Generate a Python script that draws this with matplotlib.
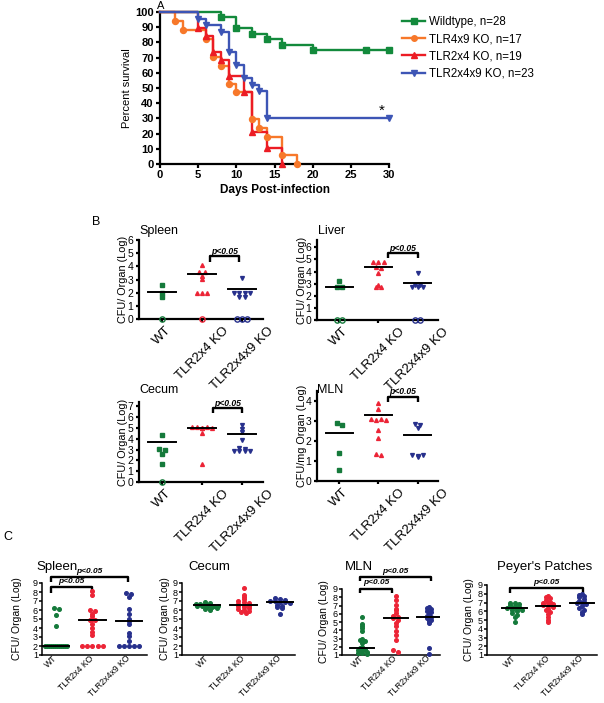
import matplotlib
matplotlib.use("Agg")
import matplotlib.pyplot as plt
import numpy as np
from matplotlib.lines import Line2D

W, H = 604, 703
plt.rcParams["font.family"] = ["Liberation Sans", "DejaVu Sans"]

# ---- panel A: survival ----
WT_DAYS = [0, 8, 10, 12, 14, 16, 20, 30]
WT_SURV = [100, 96.4, 89.3, 85.7, 82.1, 78.6, 75.0, 75.0]
WT_CENSOR = [27]
TLR49_DAYS = [0, 2, 3, 6, 7, 8, 9, 10, 12, 13, 14, 16, 18]
TLR49_SURV = [100, 94.1, 88.2, 82.4, 70.6, 64.7, 52.9, 47.1, 29.4, 23.5, 17.6, 5.9, 0]
TLR24_DAYS = [0, 5, 6, 7, 8, 9, 11, 12, 14, 16]
TLR24_SURV = [100, 89.5, 84.2, 73.7, 68.4, 57.9, 47.4, 21.1, 10.5, 0]
TLR249_DAYS = [0, 5, 6, 8, 9, 10, 11, 12, 13, 14, 30]
TLR249_SURV = [100, 95.7, 91.3, 87.0, 73.9, 65.2, 56.5, 52.2, 47.8, 30.4, 30.4]
SURV_LABELS = ["Wildtype, n=28", "TLR4x9 KO, n=17", "TLR2x4 KO, n=19", "TLR2x4x9 KO, n=23"]

GROUPS = ["WT", "TLR2x4 KO", "TLR2x4x9 KO"]

# ---- panel B ----
B_SPLEEN = [[2.6, 2.0, 1.65, 0],
            [4.1, 3.6, 3.6, 3.3, 3.05, 2.0, 2.0, 2.0, 0],
            [3.1, 2.0, 2.0, 2.0, 1.95, 1.7, 1.7, 0, 0, 0]]
B_SPLEEN_MEAN = [2.05, 3.45, 2.3]
B_LIVER = [[3.2, 2.75, 2.75, 0, 0],
           [4.8, 4.75, 4.8, 4.4, 4.3, 3.9, 2.9, 2.75, 2.7],
           [3.85, 2.85, 2.7, 2.7, 2.7, 2.85, 0, 0]]
B_LIVER_MEAN = [2.75, 4.4, 3.05]
B_CECUM = [[4.35, 3.05, 3.0, 2.6, 1.65, 0],
           [5.1, 5.05, 5.0, 5.1, 4.95, 5.0, 4.5, 1.65],
           [5.3, 4.9, 4.6, 3.85, 3.1, 3.05, 2.85, 2.85, 2.85, 2.9]]
B_CECUM_MEAN = [3.68, 4.98, 4.48]
B_MLN = [[2.9, 2.8, 1.4, 0.57],
         [3.9, 3.6, 3.1, 3.05, 3.1, 3.05, 2.57, 2.15, 1.37, 1.3],
         [2.85, 2.78, 2.67, 1.32, 1.25, 1.2, 1.28]]
B_MLN_MEAN = [2.4, 3.28, 2.3]

# ---- panel C ----
C_SPLEEN = [[6.25, 6.15, 5.45, 4.25, 2.0, 2.0, 2.0, 2.0, 2.0, 2.0, 2.0, 2.0, 2.0, 2.0, 2.0, 2.0],
            [8.1, 7.7, 6.0, 5.9, 5.6, 5.3, 5.0, 4.9, 4.85, 4.5, 4.0, 3.6, 3.2, 2.0, 2.0, 2.0, 2.0, 2.0],
            [7.9, 7.8, 7.4, 6.1, 5.6, 5.0, 4.8, 4.5, 3.5, 3.1, 2.6, 2.0, 2.0, 2.0, 2.0, 2.0]]
C_SPLEEN_MEAN = [2.0, 4.9, 4.75]
C_CECUM = [[6.9, 6.8, 6.7, 6.7, 6.6, 6.6, 6.5, 6.5, 6.5, 6.4, 6.4, 6.3, 6.3, 6.2, 6.1, 6.0],
           [8.5, 7.7, 7.4, 7.2, 7.0, 6.9, 6.8, 6.7, 6.6, 6.5, 6.4, 6.3, 6.2, 6.1, 6.0, 5.9, 5.8, 5.7],
           [7.3, 7.2, 7.1, 7.0, 6.95, 6.9, 6.85, 6.8, 6.6, 6.5, 6.3, 6.2, 5.6]]
C_CECUM_MEAN = [6.55, 6.6, 6.85]
C_MLN = [[5.6, 4.7, 4.55, 4.3, 3.9, 3.0, 2.8, 2.7, 2.5, 2.0, 1.8, 1.7, 1.6, 1.5, 1.4, 1.3, 1.2, 1.1],
         [8.1, 7.7, 7.1, 6.6, 6.4, 6.1, 5.7, 5.6, 5.5, 5.3, 4.9, 4.5, 3.9, 3.4, 2.8, 1.6, 1.4],
         [6.8, 6.7, 6.6, 6.3, 6.2, 6.0, 5.7, 5.6, 5.5, 5.3, 5.1, 4.9, 1.9, 1.15]]
C_MLN_MEAN = [1.9, 5.5, 5.6]
C_PP = [[7.0, 6.9, 6.8, 6.7, 6.6, 6.5, 6.4, 6.4, 6.3, 6.2, 6.1, 6.0, 5.8, 5.6, 5.3, 4.8],
        [7.8, 7.6, 7.5, 7.3, 7.1, 7.0, 6.9, 6.8, 6.7, 6.6, 6.5, 6.3, 6.1, 5.9, 5.7, 5.3, 5.0, 4.8],
        [8.0, 7.9, 7.8, 7.6, 7.4, 7.2, 7.1, 7.0, 6.9, 6.8, 6.6, 6.4, 6.2, 5.9, 5.7]]
C_PP_MEAN = [6.35, 6.65, 6.95]

SURV_COLORS = ["#138a3c", "#f7782a", "#ec1c24", "#3d55b5"]
SURV_MARKERS = ["s", "o", "^", "v"]
DOT_COLORS = ["#157a3b", "#ec2436", "#27308c"]
B_MARKERS = ["s", "^", "v"]


def px_box(left, top, right, bottom):
    return [left / W, 1 - bottom / H, (right - left) / W, (bottom - top) / H]


def swarm_offsets(values, bin_w, step, max_half):
    values = np.asarray(values, float)
    offsets = np.zeros(len(values))
    keys = np.round(values / bin_w)
    for k in np.unique(keys):
        idx = np.where(keys == k)[0]
        n = len(idx)
        if n < 2:
            continue
        s = min(step, 2 * max_half / (n - 1))
        offsets[idx] = (np.arange(n) - (n - 1) / 2) * s
    return offsets


def style_axes(ax, lw, ticklen, fs):
    for side in ["top", "right"]:
        ax.spines[side].set_visible(False)
    for side in ["left", "bottom"]:
        ax.spines[side].set_linewidth(lw)
    ax.tick_params(width=lw, length=ticklen, labelsize=fs, pad=1.5)


def bracket(ax, x0, x1, y, drop, lw, text_y, fs):
    ax.plot([x0, x0, x1, x1], [y - drop, y, y, y - drop], color="black", lw=lw,
            clip_on=False, solid_capstyle="butt")
    ax.text((x0 + x1) / 2, text_y, "p<0.05", ha="center", va="center", fontsize=fs,
            fontweight="bold", fontstyle="italic")


fig = plt.figure(figsize=(W / 100, H / 100), dpi=100)

# ---------------- A ----------------
ax = fig.add_axes(px_box(160, 12, 389, 164))
survival = [(WT_DAYS, WT_SURV, WT_CENSOR), (TLR49_DAYS, TLR49_SURV, []),
            (TLR24_DAYS, TLR24_SURV, []), (TLR249_DAYS, TLR249_SURV, [])]
for (days, surv, cens), color, marker in zip(survival, SURV_COLORS, SURV_MARKERS):
    ax.step(days, surv, where="post", color=color, lw=1.7, clip_on=False, zorder=3)
    mx = list(days[1:]) + list(cens)
    my = list(surv[1:]) + [surv[np.searchsorted(days, c, side="right") - 1] for c in cens]
    ax.plot(mx, my, ls="none", marker=marker, ms=4.3, color=color, clip_on=False, zorder=4)
ax.set_xlim(0, 30)
ax.set_ylim(0, 100)
ax.set_xticks(range(0, 31, 5))
ax.set_yticks(range(0, 101, 10))
style_axes(ax, 1.6, 3, 8)
for lab in ax.get_xticklabels() + ax.get_yticklabels():
    lab.set_fontweight("bold")
ax.set_xlabel("Days Post-infection", fontsize=8.5, fontweight="bold", labelpad=3)
ax.set_ylabel("Percent survival", fontsize=8, labelpad=2)
ax.text(29.1, 35, "*", fontsize=11, ha="center", va="center")
handles = [Line2D([], [], color=c, marker=m, lw=1.7, ms=4) for c, m in zip(SURV_COLORS, SURV_MARKERS)]
fig.legend(handles, SURV_LABELS, loc="upper left", bbox_to_anchor=(402 / W, 1 - 16 / H),
           frameon=False, fontsize=8.3, handlelength=2.0, handletextpad=0.35,
           labelspacing=0.45, borderpad=0, borderaxespad=0)
fig.text(161 / W, 1 - 1 / H, "A", fontsize=8, ha="center", va="top")


# ---------------- B ----------------
def b_panel(box, data, means, ylim, yticks, title, title_x, title_y, br, ylab_x):
    ax = fig.add_axes(px_box(*box))
    for i, (vals, color, marker) in enumerate(zip(data, DOT_COLORS, B_MARKERS)):
        vals = np.asarray(vals, float)
        off = swarm_offsets(vals, 0.22, 0.13, 0.3)
        nz = vals > 0
        ax.plot(i + off[nz], vals[nz], ls="none", marker=marker, ms=2.8, color=color,
                clip_on=False, zorder=3)
        ax.plot(i + off[~nz], vals[~nz], ls="none", marker="o", ms=3.8, mfc="none",
                mec=color, mew=1.0, clip_on=False, zorder=3)
        ax.plot([i - 0.34, i + 0.34], [means[i]] * 2, color="black", lw=1.4, zorder=4)
    ax.set_xlim(-0.575, 2.525)
    ax.set_ylim(*ylim)
    ax.set_yticks(yticks)
    ax.set_xticks(range(3))
    style_axes(ax, 1.6, 2.5, 7.5)
    ax.set_xticklabels(GROUPS, rotation=45, ha="center", fontsize=9.5)
    fig.text(title_x / W, 1 - title_y / H, title, fontsize=9, ha="left", va="center")
    fig.text(ylab_x / W, 1 - (box[1] + box[3]) / 2 / H, "CFU/ Organ (Log)" if title != "MLN"
             else "CFU/mg Organ (Log)", rotation=90, fontsize=7.8, ha="center", va="center")
    x0, x1, y, drop, ty = br
    bracket(ax, x0, x1, y, drop, 1.7, ty, 6.2)
    return ax


b_panel((139, 240, 263, 319), B_SPLEEN, B_SPLEEN_MEAN, (0, 6), range(0, 7), "Spleen",
        139, 231, (1.2, 1.93, 4.8, 0.45, 5.15), 123)
b_panel((317, 240, 438, 320), B_LIVER, B_LIVER_MEAN, (0, 6.6), range(0, 7), "Liver",
        318, 231, (1.25, 2.0, 5.5, 0.4, 5.9), 302)
b_panel((139, 402, 263, 482), B_CECUM, B_CECUM_MEAN, (0, 7.4), range(0, 8), "Cecum",
        139, 390, (1.28, 2.0, 6.8, 0.45, 7.25), 123)
b_panel((317, 391, 438, 481), B_MLN, B_MLN_MEAN, (0, 4.5), range(0, 5), "MLN",
        317, 390, (1.25, 2.0, 4.2, 0.25, 4.5), 302)
fig.text(96 / W, 1 - 222 / H, "B", fontsize=9, ha="center", va="center")


# ---------------- C ----------------
def c_panel(box, cats, data, means, title, title_x, brackets, ylab_x):
    left, top, right, bottom = box
    ax = fig.add_axes(px_box(left, top, right, bottom))
    spacing = cats[1] - cats[0]
    for i, (vals, color) in enumerate(zip(data, DOT_COLORS)):
        off = swarm_offsets(vals, 0.3, 0.14, 0.3)
        ax.plot(i + off, vals, ls="none", marker="o", ms=2.6, color=color, clip_on=False, zorder=3)
        ax.plot([i - 0.36, i + 0.36], [means[i]] * 2, color="black", lw=1.4, zorder=4)
    ax.set_xlim(-(cats[0] - left) / spacing, 2 + (right - cats[2]) / spacing)
    ax.set_ylim(1, 9)
    ax.set_yticks(range(1, 10))
    ax.set_xticks(range(3))
    style_axes(ax, 1.1, 2.0, 6.5)
    ax.tick_params(axis="y", pad=1)
    ax.tick_params(axis="x", length=0)
    ax.set_xticklabels(GROUPS, rotation=45, ha="right", va="center",
                       rotation_mode="anchor", fontsize=6.2)
    fig.text(title_x / W, 1 - 567 / H, title, fontsize=9.5, ha="left", va="center")
    fig.text(ylab_x / W, 1 - (top + bottom) / 2 / H, "CFU/ Organ (Log)", rotation=90,
             fontsize=7.5, ha="center", va="center")
    for x0, x1, y, drop, ty in brackets:
        bracket(ax, x0, x1, y, drop, 1.7, ty, 6.0)
    return ax


c_panel((42, 583, 147, 655), (56, 92, 129), C_SPLEEN, C_SPLEEN_MEAN, "Spleen", 36,
        [(-0.14, 1.97, 9.67, 0.6, 10.25), (-0.14, 0.99, 8.56, 0.65, 9.15)], 17)
c_panel((182, 583, 295, 655), (207, 243, 280), C_CECUM, C_CECUM_MEAN, "Cecum", 188, [], 165)
c_panel((342, 589, 440, 655), (362, 395, 429), C_MLN, C_MLN_MEAN, "MLN", 345,
        [(-0.06, 2.06, 10.45, 0.5, 11.1), (-0.06, 0.9, 9.0, 0.5, 9.75)], 324)
c_panel((487, 585, 597, 655), (514, 547, 582), C_PP, C_PP_MEAN, "Peyer's Patches", 497,
        [(-0.12, 2.03, 8.66, 0.55, 9.25)], 469)
fig.text(8 / W, 1 - 537 / H, "C", fontsize=9, ha="center", va="center")

fig.savefig("out.png", dpi=100)
